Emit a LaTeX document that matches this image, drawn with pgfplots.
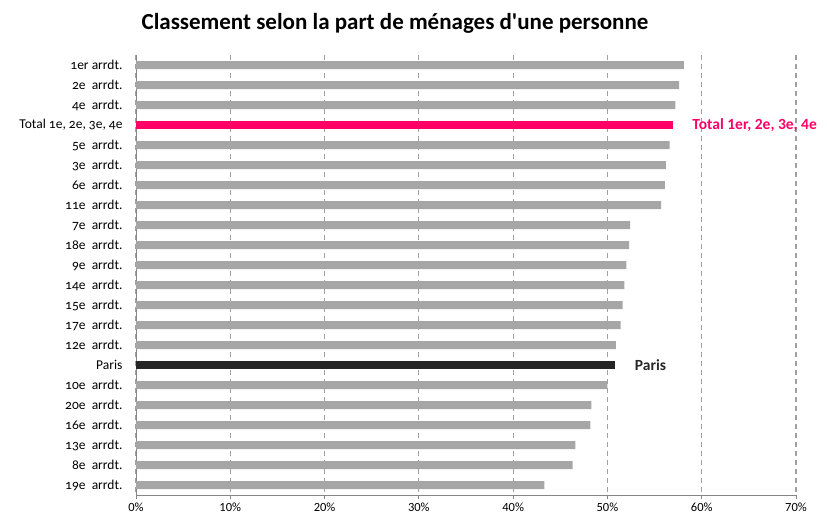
\documentclass[border=0pt]{standalone}
\usepackage{pgfplots}
\pgfplotsset{compat=1.18}
\usepackage{fontspec}
\setmainfont{Carlito}
\newfontfamily\osf{Carlito}[Numbers=OldStyle]
\definecolor{barg}{HTML}{A6A6A6}
\definecolor{pinkb}{HTML}{FF0066}
\definecolor{darkb}{HTML}{262626}
\definecolor{axg}{HTML}{868686}
\definecolor{gridg}{HTML}{A0A0A0}
\begin{document}
\begin{tikzpicture}[x=1pt,y=1pt]
\useasboundingbox (0,0) rectangle (827,520);
\node[font=\fontsize{23}{26}\selectfont\bfseries, anchor=center] at (395,497) {Classement selon la part de ménages d\textquotesingle une personne};
\begin{axis}[
  at={(136pt,25pt)}, anchor=south west,
  scale only axis, width=660pt, height=440pt,
  xmin=0, xmax=70, ymin=-0.5, ymax=21.5, y dir=reverse,
  axis x line*=bottom, axis y line*=left,
  axis line style={draw=axg, line width=0.8pt},
  xtick={0,10,...,70},
  xticklabel={\pgfmathprintnumber{\tick}\%},
  xticklabel style={font=\fontsize{12.5}{14}\selectfont},
  /pgf/number format/assume math mode=true,
  tick align=outside, major tick length=4pt, minor tick length=4pt,
  tick style={draw=axg, line width=0.8pt},
  xmajorgrids,
  grid style={draw=gridg, line width=1.1pt, dash pattern=on 5pt off 4pt},
  ytick={0,...,21},
  ytick style={draw=none},
  minor ytick={-0.5,0.5,...,21.5},
  yticklabels={1er arrdt.,2e\ \ arrdt.,4e\ \ arrdt.,{Total 1e, 2e, 3e, 4e},5e\ \ arrdt.,3e\ \ arrdt.,6e\ \ arrdt.,11e\ \ arrdt.,7e\ \ arrdt.,18e\ \ arrdt.,9e\ \ arrdt.,14e\ \ arrdt.,15e\ \ arrdt.,17e\ \ arrdt.,12e\ \ arrdt.,Paris,10e\ \ arrdt.,20e\ \ arrdt.,16e\ \ arrdt.,13e\ \ arrdt.,8e\ \ arrdt.,19e\ \ arrdt.},
  yticklabel style={font=\fontsize{13.5}{15}\selectfont\osf, xshift=-6pt},
  xbar, bar width=8pt, bar shift=0pt,
  clip=false,
]
\addplot[fill=barg, draw=none] coordinates {
(58.1,0) (57.6,1) (57.2,2) (56.6,4) (56.2,5) (56.1,6) (55.7,7)
(52.4,8) (52.3,9) (52.0,10) (51.8,11) (51.6,12) (51.4,13) (50.9,14)
(50.0,16) (48.3,17) (48.2,18) (46.6,19) (46.3,20) (43.3,21)};
\addplot[fill=pinkb, draw=none] coordinates {(57.0,3)};
\addplot[fill=darkb, draw=none] coordinates {(50.8,15)};
\node[anchor=west, inner sep=0pt, text=pinkb, font=\fontsize{15.5}{17}\selectfont\bfseries] at (axis cs:59,3) {Total 1er, 2e, 3e, 4e};
\node[anchor=west, inner sep=0pt, text=darkb, font=\fontsize{15.5}{17}\selectfont\bfseries] at (axis cs:52.9,15) {Paris};
\end{axis}
\end{tikzpicture}
\end{document}
